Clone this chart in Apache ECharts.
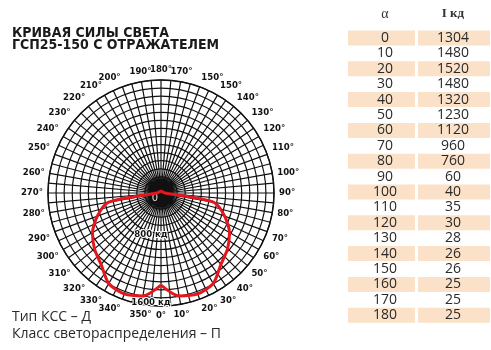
<!DOCTYPE html>
<html><head><meta charset="utf-8">
<script src="https://cdn.jsdelivr.net/npm/echarts@6/dist/echarts.min.js"></script>
<style>html,body{margin:0;padding:0;background:#fff}#c{width:491px;height:350px}</style>
</head><body><div id="c"></div>
<script>
// ---- data ----
const alphaDeg = [0,10,20,30,40,50,60,70,80,90,100,110,120,130,140,150,160,170,180];
const intensity = [1304,1480,1520,1480,1320,1230,1120,960,760,60,40,35,30,28,26,26,25,25,25];
const angleTickLabels = ['0°','10°','20°','30°','40°','50°','60°','70°','80°','90°','100°','110°','120°','130°','140°','150°','150°','170°','180°','190°','200°','210°','220°','230°','240°','250°','260°','270°','280°','290°','300°','310°','320°','330°','340°','350°'];
const radiusLabelValues = [0, 800, 1600];
const radiusLabelTexts = ['0', '800 кд', '1600 кд'];
const titleLines = ['КРИВАЯ СИЛЫ СВЕТА', 'ГСП25-150 С ОТРАЖАТЕЛЕМ'];
const noteLines = ['Тип КСС – Д', 'Класс светораспределения – П'];
const tableHeader = ['α', 'I кд'];

// ---- build curve (symmetric) ----
const curve = [];
alphaDeg.forEach((a, i) => curve.push([intensity[i], a]));
for (let i = alphaDeg.length - 2; i >= 0; i--) curve.push([intensity[i], 360 - alphaDeg[i]]);

// ---- table graphics ----
const graphics = [];
const colA = 385, colI = 453, row0 = 38, rowH = 15.4;
graphics.push({type:'text', x: colA, y: 14, style:{text: tableHeader[0], font:'14px "Liberation Serif", serif', fill:'#333', align:'center', verticalAlign:'middle'}});
graphics.push({type:'text', x: colI, y: 14, style:{text: tableHeader[1], font:'bold 13px "Liberation Serif", serif', fill:'#333', align:'center', verticalAlign:'middle'}});
alphaDeg.forEach((a, i) => {
  const y = row0 + i * rowH;
  if (i % 2 === 0) {
    graphics.push({type:'rect', shape:{x:348, y:y-7.5, width:67, height:15}, style:{fill:'#fbe1c8'}, z:-1});
    graphics.push({type:'rect', shape:{x:418, y:y-7.5, width:72, height:15}, style:{fill:'#fbe1c8'}, z:-1});
  }
  graphics.push({type:'text', x: colA, y: y, style:{text: String(a), font:'14px "Open Sans", sans-serif', fill:'#2a2a2a', align:'center', verticalAlign:'middle'}});
  graphics.push({type:'text', x: colI, y: y, style:{text: String(intensity[i]), font:'14px "Open Sans", sans-serif', fill:'#2a2a2a', align:'center', verticalAlign:'middle'}});
});
graphics.push({type:'text', x: 12, y: 33, style:{text: titleLines[0], font:'bold 14px "DejaVu Sans Condensed", "DejaVu Sans", sans-serif', fill:'#1a1a1a', verticalAlign:'middle'}});
graphics.push({type:'text', x: 12, y: 45.5, style:{text: titleLines[1], font:'bold 14px "DejaVu Sans Condensed", "DejaVu Sans", sans-serif', fill:'#1a1a1a', verticalAlign:'middle'}});
graphics.push({type:'text', x: 12, y: 317, style:{text: noteLines[0], font:'14px "Open Sans", sans-serif', fill:'#2a2a2a', verticalAlign:'middle'}});
graphics.push({type:'text', x: 12, y: 334, style:{text: noteLines[1], font:'14px "Open Sans", sans-serif', fill:'#2a2a2a', verticalAlign:'middle'}});

const chart = echarts.init(document.getElementById('c'));
chart.setOption({
  animation: false,
  backgroundColor: '#fff',
  polar: { center: [161, 193], radius: 113 },
  angleAxis: {
    type: 'value', min: 0, max: 360, interval: 5,
    startAngle: 270, clockwise: false,
    axisLine: { show: true, lineStyle: { color: '#111', width: 1.4 } },
    axisTick: { show: false },
    splitLine: { show: true, lineStyle: { color: '#111', width: 1.2 } },
    axisLabel: {
      margin: 5,
      fontFamily: '"Liberation Sans Narrow", "DejaVu Sans Condensed", sans-serif',
      fontWeight: 'bold', fontSize: 9.5, color: '#111',
      formatter: v => { const r = Math.round(v); return (r % 10 === 0 && r < 360) ? angleTickLabels[r / 10] : ''; }
    }
  },
  radiusAxis: {
    type: 'value', min: 0, max: 1600, interval: 1600 / 14,
    axisLine: { show: false }, axisTick: { show: false },
    splitLine: { show: true, lineStyle: { color: '#111', width: 1.2 } },
    axisLabel: {
      margin: 0,
      align: 'center', verticalAlign: 'middle',
      formatter: v => { const k = radiusLabelValues.indexOf(Math.round(v)); return k < 0 ? '' : '{r' + k + '|' + radiusLabelTexts[k] + '}'; },
      rich: {
        r0: { color: '#e0e0e0', fontSize: 11, fontFamily: '"DejaVu Sans Condensed", sans-serif', padding: [10, 12, 0, 0] },
        r1: { color: '#111', fontSize: 9.5, fontWeight: 'bold', fontFamily: '"Liberation Sans Narrow", "DejaVu Sans Condensed", sans-serif', textBorderColor: '#fff', textBorderWidth: 2, padding: [0, 20, 29, 0] },
        r2: { color: '#111', fontSize: 9.5, fontWeight: 'bold', fontFamily: '"Liberation Sans Narrow", "DejaVu Sans Condensed", sans-serif', textBorderColor: '#fff', textBorderWidth: 2, padding: [0, 20, 6, 0] }
      }
    }
  },
  series: [{
    type: 'line', coordinateSystem: 'polar', data: curve,
    showSymbol: false, smooth: 0.25,
    lineStyle: { color: '#e3171d', width: 3 }, z: 5
  }],
  graphic: graphics
});
</script></body></html>
